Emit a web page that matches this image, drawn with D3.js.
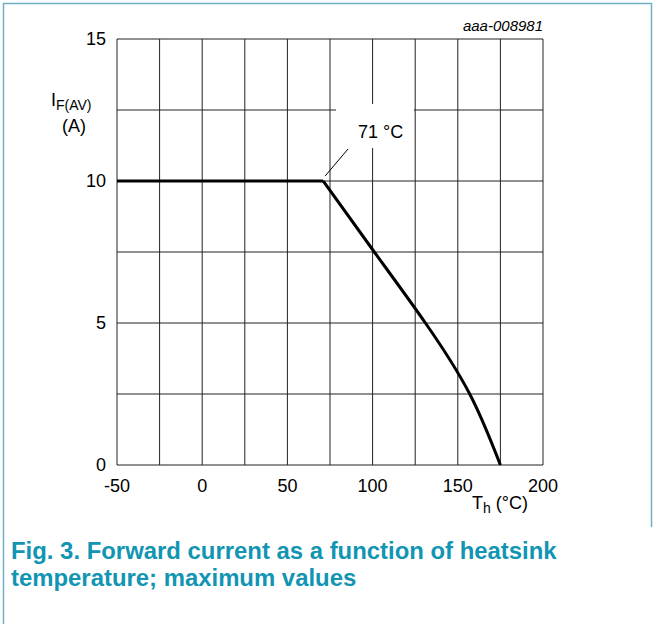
<!DOCTYPE html>
<html>
<head>
<meta charset="utf-8">
<script src="https://cdn.jsdelivr.net/npm/d3@7"></script>
<style>
  body { margin: 0; background: #fff; }
  svg text { font-family: "Liberation Sans", Arial, sans-serif; }
</style>
</head>
<body>
<div id="chart"></div>
<script>
// curve (Th in degC, IF(AV) in A)
const flatTemps = [-50, 71];
const flatCurrents = [10, 10];
const dropTemps = [71, 101, 131, 157, 175];
const dropCurrents = [10, 7.5, 5, 2.5, 0];

const xTickLabels = [-50, 0, 50, 100, 150, 200];
const yTickLabels = [0, 5, 10, 15];
const xGrid = [-50, -25, 0, 25, 50, 75, 100, 125, 150, 175, 200];
const yGrid = [0, 2.5, 5, 7.5, 10, 12.5, 15];

const kneeLabel = "71 °C";
const codeLabel = "aaa-008981";
const captionLines = [
  "Fig. 3. Forward current as a function of heatsink",
  "temperature; maximum values"
];

const W = 655, H = 624;
const teal = "#1195b3";

const svg = d3.select("#chart").append("svg")
  .attr("width", W)
  .attr("height", H);

// frame
svg.append("path")
  .attr("d", "M3.5,624 L3.5,3.5 L651.5,3.5 L651.5,527")
  .attr("fill", "none")
  .attr("stroke", "#6fb0c4")
  .attr("stroke-width", 1.5);

const x = d3.scaleLinear().domain([-50, 200]).range([117, 543]);
const y = d3.scaleLinear().domain([0, 15]).range([465, 39]);

// grid
svg.append("g").selectAll("line")
  .data(xGrid)
  .join("line")
  .attr("x1", d => x(d)).attr("x2", d => x(d))
  .attr("y1", y(0)).attr("y2", y(15))
  .attr("stroke", "#222")
  .attr("stroke-width", 1);

svg.append("g").selectAll("line")
  .data(yGrid)
  .join("line")
  .attr("x1", x(-50)).attr("x2", x(200))
  .attr("y1", d => y(d)).attr("y2", d => y(d))
  .attr("stroke", "#222")
  .attr("stroke-width", 1);

// white box behind the knee label
svg.append("rect")
  .attr("x", 336).attr("y", 104)
  .attr("width", 78).attr("height", 44)
  .attr("fill", "#fff");

// tick labels
svg.append("g").selectAll("text")
  .data(xTickLabels)
  .join("text")
  .attr("x", d => x(d))
  .attr("y", 492)
  .attr("text-anchor", "middle")
  .attr("font-size", 18)
  .text(d => d);

svg.append("g").selectAll("text")
  .data(yTickLabels)
  .join("text")
  .attr("x", 106)
  .attr("y", d => y(d))
  .attr("dy", "0.35em")
  .attr("text-anchor", "end")
  .attr("font-size", 18)
  .text(d => d);

// axis titles
const yt = svg.append("text").attr("x", 51).attr("y", 106).attr("font-size", 18);
yt.append("tspan").text("I");
yt.append("tspan").attr("font-size", 14).attr("dy", 4).text("F(AV)");
svg.append("text")
  .attr("x", 74).attr("y", 132)
  .attr("text-anchor", "middle")
  .attr("font-size", 18)
  .text("(A)");

const xt = svg.append("text").attr("x", 472).attr("y", 509).attr("font-size", 18);
xt.append("tspan").text("T");
xt.append("tspan").attr("font-size", 14).attr("dy", 4).text("h");
xt.append("tspan").attr("dy", -4).text(" (°C)");

svg.append("text")
  .attr("x", 543).attr("y", 31)
  .attr("text-anchor", "end")
  .attr("font-size", 15)
  .attr("font-style", "italic")
  .text(codeLabel);

// curve
const flat = d3.line().x(d => x(d[0])).y(d => y(d[1]));
const drop = d3.line().x(d => x(d[0])).y(d => y(d[1])).curve(d3.curveNatural);

svg.append("path")
  .datum(d3.zip(flatTemps, flatCurrents))
  .attr("d", flat)
  .attr("fill", "none")
  .attr("stroke", "#000")
  .attr("stroke-width", 3);

svg.append("path")
  .datum(d3.zip(dropTemps, dropCurrents))
  .attr("d", drop)
  .attr("fill", "none")
  .attr("stroke", "#000")
  .attr("stroke-width", 3);

// knee annotation
svg.append("line")
  .attr("x1", x(71) + 2).attr("y1", y(10) - 5)
  .attr("x2", 348).attr("y2", 149)
  .attr("stroke", "#000")
  .attr("stroke-width", 1);

svg.append("text")
  .attr("x", 358).attr("y", 138)
  .attr("font-size", 18)
  .text(kneeLabel);

// caption
svg.append("g").selectAll("text")
  .data(captionLines)
  .join("text")
  .attr("x", 11)
  .attr("y", (d, i) => 559 + i * 27)
  .attr("font-size", 23.9)
  .attr("font-weight", "bold")
  .attr("fill", teal)
  .text(d => d);
</script>
</body>
</html>
